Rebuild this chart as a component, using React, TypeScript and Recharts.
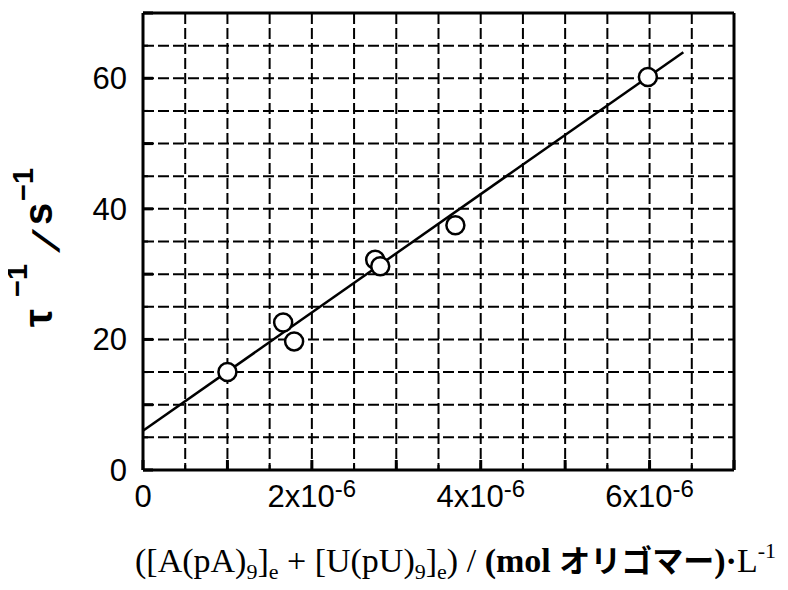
import React from "react";
import { ComposedChart, Line, Scatter, XAxis, YAxis, CartesianGrid, Label } from "recharts";

// measured points: total oligomer concentration (mol/L) vs reciprocal relaxation time (1/s)
const concentration = [1.0e-6, 1.66e-6, 1.79e-6, 2.75e-6, 2.81e-6, 3.7e-6, 5.98e-6];
const rate = [15.0, 22.6, 19.7, 32.2, 31.2, 37.5, 60.2];

// drawn fit line (end points)
const fitX = [0, 6.4e-6];
const fitY = [6.0, 64.0];

const xGridTicks = [0, 0.5e-6, 1e-6, 1.5e-6, 2e-6, 2.5e-6, 3e-6, 3.5e-6, 4e-6, 4.5e-6, 5e-6, 5.5e-6, 6e-6, 6.5e-6, 7e-6];
const xMajorTicks = [0, 1e-6, 2e-6, 3e-6, 4e-6, 5e-6, 6e-6, 7e-6];
const xLabelTicks = [0, 2e-6, 4e-6, 6e-6];
const xLabelMantissa = ["0", "2x10", "4x10", "6x10"];
const xLabelExponent = ["", "-6", "-6", "-6"];

const yGridTicks = [0, 5, 10, 15, 20, 25, 30, 35, 40, 45, 50, 55, 60, 65, 70];
const yMajorTicks = [0, 10, 20, 30, 40, 50, 60, 70];
const yLabelTicks = [0, 20, 40, 60];

const points = concentration.map((x, i) => ({ x, y: rate[i] }));
const fitLine = fitX.map((x, i) => ({ x, y: fitY[i] }));

const SANS = "'Liberation Sans', Arial, Helvetica, sans-serif";
const SERIF = "'Liberation Serif', 'Times New Roman', serif";

const near = (a: number, b: number) => Math.abs(a - b) < 1e-12;
const isMajor = (list: number[], v: number) => list.some((t) => near(t, v));

const BottomTick = (props: any) => {
  const { x, y, payload } = props;
  const v = payload.value;
  const major = isMajor(xMajorTicks, v);
  const idx = xLabelTicks.findIndex((t) => near(t, v));
  return (
    <g>
      <line x1={x} x2={x} y1={y} y2={y - (major ? 10 : 5)} stroke="#000" strokeWidth={major ? 3 : 2} />
      {idx >= 0 && (
        <text x={x} y={y + 37} textAnchor="middle" fontFamily={SANS} fontSize={31} fill="#000">
          {xLabelMantissa[idx]}
          {xLabelExponent[idx] && (
            <tspan fontSize={24} dy={-10}>
              {xLabelExponent[idx]}
            </tspan>
          )}
        </text>
      )}
    </g>
  );
};

const TopTick = (props: any) => {
  const { x, y, payload } = props;
  const major = isMajor(xMajorTicks, payload.value);
  return <line x1={x} x2={x} y1={y} y2={y + (major ? 10 : 5)} stroke="#000" strokeWidth={major ? 3 : 2} />;
};

const LeftTick = (props: any) => {
  const { x, y, payload } = props;
  const v = payload.value;
  const major = isMajor(yMajorTicks, v);
  const label = yLabelTicks.includes(v);
  return (
    <g>
      <line x1={x} x2={x + (major ? 10 : 5)} y1={y} y2={y} stroke="#000" strokeWidth={major ? 3 : 2} />
      {label && (
        <text x={x - 16} y={y + 11} textAnchor="end" fontFamily={SANS} fontSize={31} fill="#000">
          {v}
        </text>
      )}
    </g>
  );
};

const RightTick = (props: any) => {
  const { x, y, payload } = props;
  const major = isMajor(yMajorTicks, payload.value);
  return <line x1={x} x2={x - (major ? 10 : 5)} y1={y} y2={y} stroke="#000" strokeWidth={major ? 3 : 2} />;
};

const XTitle = (props: any) => {
  const vb = props.viewBox;
  const cx = vb.x + vb.width / 2 + 17;
  const cy = vb.y + 102;
  return (
    <text x={cx} y={cy} textAnchor="middle" fontFamily={SERIF} fontSize={34} fill="#000">
      ([A(pA)
      <tspan fontSize={22} dy={7}>9</tspan>
      <tspan dy={-7}>]</tspan>
      <tspan fontSize={22} dy={7}>e</tspan>
      <tspan dy={-7}> + [U(pU)</tspan>
      <tspan fontSize={22} dy={7}>9</tspan>
      <tspan dy={-7}>]</tspan>
      <tspan fontSize={22} dy={7}>e</tspan>
      <tspan dy={-7}>) / </tspan>
      <tspan fontWeight="bold">(mol </tspan>
      <tspan fontWeight="bold" fontFamily="'Noto Sans CJK JP', sans-serif" fontSize={31}>オリゴマー</tspan>
      <tspan fontWeight="bold">)·</tspan>
      <tspan>L</tspan>
      <tspan fontSize={22} dy={-14}>-1</tspan>
    </text>
  );
};

const YTitle = () => {
  // rotated frame: x runs upward along the page, baseline at page x ≈ 52
  const cx = 52;
  const cy = 327;
  return (
    <g transform={`rotate(-90, ${cx}, ${cy})`} fontFamily={SANS} fontWeight="bold" fill="#000">
      <text x={cx} y={cy} fontSize={40}>τ</text>
      <text x={cx + 30} y={cy - 25} fontSize={29}>−1</text>
      <text transform={`translate(${cx + 74}, ${cy + 7}) skewX(-28)`} fontSize={37}>/</text>
      <text x={cx + 102} y={cy} fontSize={40}>s</text>
      <text x={cx + 126} y={cy - 19} fontSize={29}>−1</text>
    </g>
  );
};

export default function App() {
  return (
    <div style={{ margin: "-8px 0 0 -8px", width: 788, height: 590 }}>
      <ComposedChart width={788} height={590} margin={{ top: 12, right: 53, bottom: 80, left: 63 }}>
        <CartesianGrid
          xAxisId="b"
          yAxisId="l"
          stroke="#000"
          strokeWidth={2}
          strokeDasharray="11 4"
          verticalValues={xGridTicks}
          horizontalValues={yGridTicks}
        />
        <XAxis
          xAxisId="b"
          dataKey="x"
          type="number"
          domain={[0, 7e-6]}
          ticks={xGridTicks}
          interval={0}
          height={40}
          tickSize={0}
          tickMargin={0}
          tickLine={false}
          axisLine={{ stroke: "#000", strokeWidth: 3 }}
          tick={BottomTick}
        >
          <Label content={XTitle} />
        </XAxis>
        <XAxis
          xAxisId="t"
          orientation="top"
          type="number"
          domain={[0, 7e-6]}
          ticks={xGridTicks}
          interval={0}
          height={1}
          tickSize={0}
          tickMargin={0}
          tickLine={false}
          axisLine={{ stroke: "#000", strokeWidth: 3 }}
          tick={TopTick}
        />
        <YAxis
          yAxisId="l"
          type="number"
          domain={[0, 70]}
          ticks={yGridTicks}
          interval={0}
          width={80}
          tickSize={0}
          tickMargin={0}
          tickLine={false}
          axisLine={{ stroke: "#000", strokeWidth: 3 }}
          tick={LeftTick}
        >
          <Label content={YTitle} />
        </YAxis>
        <YAxis
          yAxisId="r"
          orientation="right"
          type="number"
          domain={[0, 70]}
          ticks={yGridTicks}
          interval={0}
          width={1}
          tickSize={0}
          tickMargin={0}
          tickLine={false}
          axisLine={{ stroke: "#000", strokeWidth: 3 }}
          tick={RightTick}
        />
        <Line
          xAxisId="b"
          yAxisId="l"
          data={fitLine}
          dataKey="y"
          type="linear"
          stroke="#000"
          strokeWidth={2.5}
          dot={false}
          activeDot={false}
          isAnimationActive={false}
        />
        <Scatter
          xAxisId="b"
          yAxisId="l"
          data={points}
          dataKey="y"
          isAnimationActive={false}
          shape={(p: any) => <circle cx={p.cx} cy={p.cy} r={9} fill="#fff" stroke="#000" strokeWidth={2.5} />}
        />
      </ComposedChart>
    </div>
  );
}
